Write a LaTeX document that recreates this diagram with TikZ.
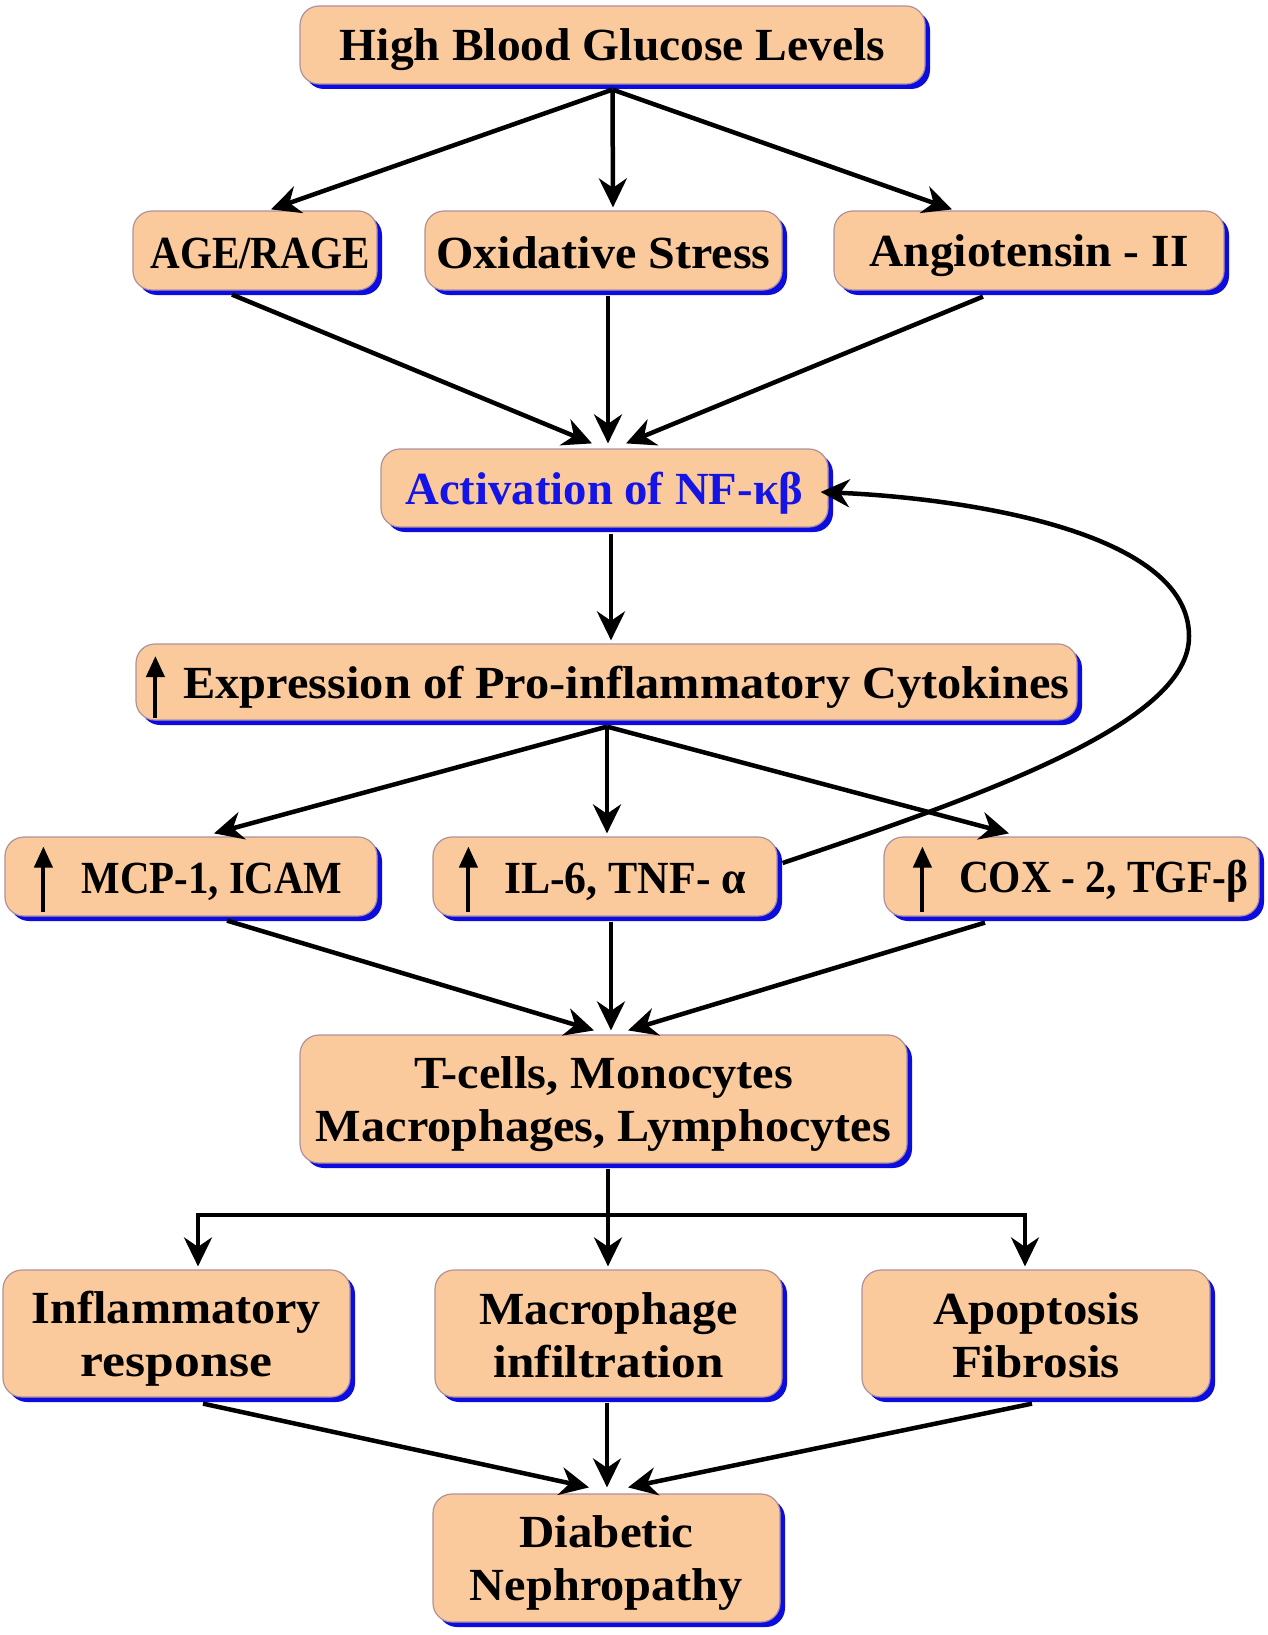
\documentclass[tikz,border=0pt]{standalone}
\usepackage{fontspec}
\setmainfont{Liberation Serif}
\usetikzlibrary{arrows.meta,shadows,calc}
\definecolor{peach}{RGB}{251,202,156}
\definecolor{edgec}{RGB}{175,145,155}
\definecolor{shblue}{RGB}{12,12,225}
\definecolor{nfblue}{RGB}{20,20,230}
\newcommand\fitw[2]{\rule[-7pt]{0pt}{49pt}\resizebox{#1pt}{\height}{#2}}
\begin{document}
\begin{tikzpicture}[x=1pt,y=-1pt,
  box/.style={draw=edgec, line width=1.2pt, fill=peach, rounded corners=19pt,
    inner sep=0pt, align=center, font=\fontsize{46}{53}\selectfont\bfseries,
    general shadow={fill=shblue, shadow xshift=5pt, shadow yshift=-5pt}},
  arr/.style={line width=4.5pt, -{Stealth[length=29pt,width=28pt]}},
  uparr/.style={line width=4pt, -{Triangle[length=21pt,width=18pt]}},
  hline/.style={line width=4.5pt}]
\useasboundingbox (0,0) rectangle (1267,1635);

% nodes
\node[box, minimum width=625pt, minimum height=78pt] (hbg) at (612.5,45) {\fitw{545}{High Blood Glucose Levels}};
\node[box, minimum width=244pt, minimum height=79pt] (age) at (255,250.5) {\hspace*{10pt}\fitw{219}{AGE/RAGE}};
\node[box, minimum width=357pt, minimum height=79pt] (oxi) at (603.5,250.5) {\fitw{334}{Oxidative Stress}};
\node[box, minimum width=390pt, minimum height=79pt] (ang) at (1029,250.5) {\fitw{319}{Angiotensin - II}};
\node[box, minimum width=447pt, minimum height=78pt, text=nfblue] (nf) at (604.5,488) {\fitw{398}{Activation of NF-κβ}};
\node[box, minimum width=941pt, minimum height=76pt] (exp) at (606.5,682) {\hspace*{40pt}\fitw{886}{Expression of Pro-inflammatory Cytokines}};
\node[box, minimum width=372pt, minimum height=79pt] (mcp) at (191,876.5) {\hspace*{42pt}\fitw{261}{MCP-1, ICAM}};
\node[box, minimum width=344pt, minimum height=79pt] (il6) at (605,876.5) {\hspace*{40pt}\fitw{242}{IL-6, TNF- α}};
\node[box, minimum width=375pt, minimum height=79pt] (cox) at (1071.5,876.5) {\hspace*{64pt}\fitw{289}{COX - 2, TGF-β}};
\node[box, minimum width=607pt, minimum height=128pt] (tc) at (603.5,1099) {\fitw{379}{T-cells, Monocytes}\\\fitw{575}{Macrophages, Lymphocytes}};
\node[box, minimum width=347pt, minimum height=127pt] (inf) at (176.5,1333.5) {\fitw{289}{Inflammatory}\\\fitw{191}{response}};
\node[box, minimum width=347pt, minimum height=127pt] (mac) at (608.5,1333.5) {\fitw{258}{Macrophage}\\\fitw{230}{infiltration}};
\node[box, minimum width=348pt, minimum height=127pt] (apo) at (1036,1333.5) {\fitw{206}{Apoptosis}\\\fitw{168}{Fibrosis}};
\node[box, minimum width=347pt, minimum height=128pt] (dn) at (606.5,1558) {\fitw{174}{Diabetic}\\\fitw{273}{Nephropathy}};

% in-box up arrows
\draw[uparr] ($(exp.west)+(20,36)$) -- ($(exp.west)+(20,-26)$);
\draw[uparr] ($(mcp.west)+(39,35)$) -- ($(mcp.west)+(39,-30)$);
\draw[uparr] ($(il6.west)+(36,35)$) -- ($(il6.west)+(36,-30)$);
\draw[uparr] ($(cox.west)+(39,35)$) -- ($(cox.west)+(39,-30)$);

% connectors
\draw[arr] ($(hbg.south)+(0,5)$) -- ($(age.north)+(16,-1)$);
\draw[arr] ($(hbg.south)+(0,5)$) -- ($(oxi.north)+(9.5,-3)$);
\draw[arr] ($(hbg.south)+(0,5)$) -- ($(ang.north)+(-77,-1)$);

\draw[arr] ($(age.south)+(-23,4)$) -- ($(nf.north)+(-12.5,-5)$);
\draw[arr] ($(oxi.south)+(4.5,5)$) -- ($(nf.north)+(3.5,-5)$);
\draw[arr] ($(ang.south)+(-46,6)$) -- ($(nf.north)+(21.5,-5)$);

\draw[arr] ($(nf.south)+(6.5,6)$) -- ($(exp.north)+(4.5,-3)$);

\draw[arr] ($(exp.south)+(0.5,6)$) -- ($(mcp.north)+(23,-3)$);
\draw[arr] ($(exp.south)+(0.5,6)$) -- ($(il6.north)+(2,-3)$);
\draw[arr] ($(exp.south)+(0.5,6)$) -- ($(cox.north)+(-62.5,-3)$);

\draw[arr] ($(il6.east)+(5,-13.5)$) .. controls (1000,790) and (1190,720) .. (1189,636)
  .. controls (1189,530) and (960,498) .. ($(nf.east)+(-8,4)$);

\draw[arr] ($(mcp.south)+(36,4)$) -- ($(tc.north)+(-9.5,-4)$);
\draw[arr] ($(il6.south)+(6,5)$) -- ($(tc.north)+(7.5,-4)$);
\draw[arr] ($(cox.south)+(-86.5,6)$) -- ($(tc.north)+(24.5,-4)$);

\coordinate (hl) at (198,1215);
\coordinate (hr) at (1025,1215);
\draw[hline] ([xshift=-2pt]hl) -- ([xshift=2pt]hr);
\draw[arr] ($(tc.south)+(4.5,5)$) -- ($(mac.north)+(-0.5,-3)$);
\draw[arr] (hl) -- ($(inf.north)+(21.5,-3)$);
\draw[arr] (hr) -- ($(apo.north)+(-11,-3)$);

\draw[arr] ($(inf.south)+(26.5,6)$) -- ($(dn.north)+(-17.5,-6)$);
\draw[arr] ($(mac.south)+(-1.5,5)$) -- ($(dn.north)+(0.5,-6)$);
\draw[arr] ($(apo.south)+(-4,6)$) -- ($(dn.north)+(21.5,-6)$);
\end{tikzpicture}
\end{document}
